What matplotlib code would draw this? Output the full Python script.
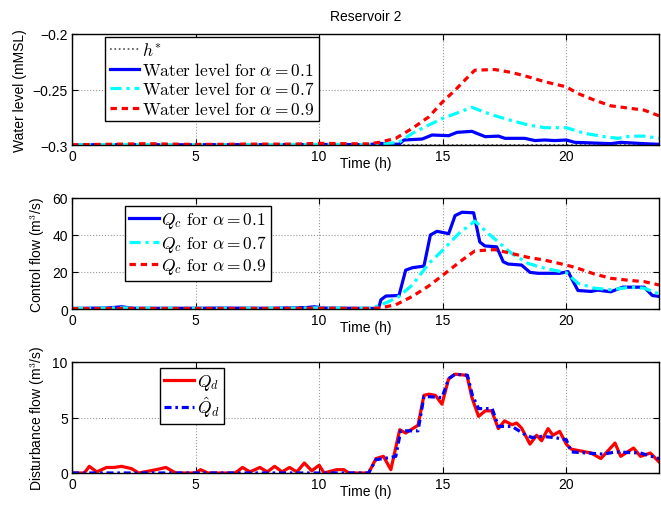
import matplotlib
matplotlib.use('Agg')
import matplotlib.pyplot as plt

plt.rcParams['font.family'] = ['Liberation Sans', 'DejaVu Sans']
plt.rcParams['mathtext.fontset'] = 'cm'

# --- Reservoir 2 water level (mMSL) ---
h_star = -0.3

t_h01 = [0, 2, 4, 6, 8, 10, 12, 12.43, 13.23, 13.43, 14.17, 14.57, 15.24, 15.58, 16.18, 16.38,
         16.72, 17.25, 17.52, 18.32, 18.73, 19.13, 19.53, 20.0, 20.34, 21.8, 22.2, 23.15, 23.75]
h_01 = [-0.2998, -0.2997, -0.2998, -0.2997, -0.2997, -0.2996, -0.2997, -0.2985, -0.2994, -0.2955,
        -0.2946, -0.291, -0.2916, -0.2886, -0.2877, -0.2895, -0.2925, -0.292, -0.294, -0.294,
        -0.296, -0.2955, -0.296, -0.2955, -0.2976, -0.2988, -0.2976, -0.2988, -0.2994]

t_h07 = [0, 2, 4, 6, 8, 10, 12, 12.43, 13.23, 13.77, 14.44, 15.0, 15.64, 16.18, 16.58, 17.12,
         17.79, 18.46, 19.13, 20.0, 20.74, 21.54, 22.08, 22.6, 23.15, 23.75]
h_07 = [-0.2998, -0.2996, -0.2996, -0.2997, -0.2996, -0.2994, -0.2995, -0.2994, -0.2976, -0.2895,
        -0.282, -0.276, -0.2707, -0.266, -0.2695, -0.2737, -0.278, -0.282, -0.2844, -0.2844,
        -0.2895, -0.2925, -0.294, -0.292, -0.292, -0.294]

t_h09 = [0, 1, 2, 3, 4, 5, 6, 7, 8, 9, 10, 11, 12, 12.43, 13.1, 13.77, 14.44, 15.0, 15.5, 16.05,
         16.3, 17.1, 17.8, 18.46, 19.13, 20.0, 20.47, 21.14, 21.8, 22.6, 23.15, 23.75]
h_09 = [-0.2998, -0.2995, -0.2992, -0.2988, -0.2992, -0.2995, -0.2994, -0.2992, -0.2992, -0.2992,
        -0.2985, -0.2988, -0.299, -0.2976, -0.294, -0.285, -0.2746, -0.261, -0.2506, -0.238,
        -0.2326, -0.232, -0.2347, -0.2386, -0.243, -0.2476, -0.2536, -0.2596, -0.2647, -0.267,
        -0.2686, -0.2737]

# --- Control flow Qc (m3/s) ---
t_q01 = [0, 1.5, 2.0, 2.5, 5, 6, 8, 9.5, 9.8, 10.2, 12.4, 12.5, 12.7, 13.23, 13.5, 13.77, 14.24,
         14.5, 14.77, 15.24, 15.5, 15.78, 16.25, 16.5, 16.7, 17.18, 17.45, 17.65, 18.19, 18.53,
         18.86, 19.73, 20.07, 20.47, 21.0, 21.27, 21.8, 22.28, 23.15, 23.48, 23.75]
q_01 = [0.3, 0.6, 1.2, 0.4, 0.4, 0.5, 0.4, 0.8, 1.2, 0.5, 0.3, 5, 7, 7.3, 21, 22.3, 23.2,
        40, 42, 40.7, 50.5, 52.3, 52, 36.2, 34.1, 33.6, 25.5, 24.3, 23.75, 19.8,
        19.3, 19.3, 20.2, 10, 9.5, 10.2, 9.3, 11.8, 11.8, 7.3, 6.8]

t_q07 = [0, 2, 4, 6, 8, 10, 12, 12.43, 12.83, 13.23, 13.77, 14.44, 15.0, 15.64, 16.3, 16.85,
         17.25, 17.79, 18.46, 19.13, 20.0, 20.47, 21.14, 21.8, 22.6, 23.15, 23.75]
q_07 = [0.3, 0.6, 0.4, 0.4, 0.4, 0.6, 0.4, 1.8, 4.1, 6.8, 13, 24.6, 31.8, 40.7, 47.5, 40.7,
        36.2, 30, 24.6, 22, 19.6, 13.9, 11.25, 10.4, 11.8, 11.25, 8.2]

t_q09 = [0, 2, 4, 6, 8, 10, 12, 12.43, 13.1, 13.77, 14.44, 15.1, 15.78, 16.3, 17.1, 17.79,
         18.46, 19.13, 20.0, 20.47, 21.14, 21.8, 22.6, 23.15, 23.75]
q_09 = [0.2, 0.3, 0.3, 0.3, 0.3, 0.4, 0.3, 0.5, 2.3, 6.8, 12.5, 19.3, 26.4, 31.4, 32.1, 30,
        27.9, 26.4, 23.75, 22, 18.9, 16.6, 15.4, 14.8, 13]

# --- Disturbance flow Qd (m3/s) ---
t_qd = [0, 0.5, 0.7, 1.0, 1.4, 1.7, 2.0, 2.4, 2.7, 3.4, 3.8, 4.2, 5.0, 5.2, 5.5, 6.6, 6.9, 7.2,
        7.6, 7.9, 8.2, 8.5, 8.8, 9.1, 9.4, 9.7, 10.0, 10.2, 10.7, 11.0, 11.2, 12.0, 12.3, 12.6,
        12.9, 13.1, 13.26, 13.5, 14.0, 14.24, 14.44, 14.7, 14.97, 15.24, 15.5, 15.98, 16.18,
        16.45, 16.72, 16.98, 17.25, 17.5, 17.8, 17.99, 18.19, 18.53, 18.8, 19.0, 19.26, 19.46,
        19.73, 20.0, 20.2, 21.0, 21.4, 21.97, 22.2, 22.72, 23.0, 23.4, 23.75]
qd = [0, 0, 0.6, 0.1, 0.5, 0.5, 0.6, 0.4, 0, 0.3, 0.5, 0, 0, 0.3, 0, 0, 0.5, 0.1,
      0.5, 0.1, 0.6, 0.1, 0.5, 0.1, 0.9, 0.2, 0.7, 0, 0.3, 0.3, 0, 0, 1.3, 1.5,
      0.3, 2.3, 3.9, 3.6, 4.3, 7.0, 7.1, 7.0, 6.2, 8.5, 8.9, 8.8, 6.8,
      5.1, 5.6, 5.6, 4.0, 4.7, 4.35, 4.5, 4.05, 2.6, 3.4, 2.9, 4.0, 3.4,
      3.75, 2.6, 2.15, 1.8, 1.3, 2.7, 1.5, 2.25, 1.5, 1.8, 1.0]

t_qd_hat = [0, 12.0, 12.3, 12.9, 13.1, 13.3, 14.0, 14.24, 14.97, 15.24, 15.5, 16.0, 16.2, 16.45,
            17.0, 17.25, 17.8, 18.3, 18.6, 19.0, 19.5, 20.0, 20.2, 21.5, 22.0, 23.0, 23.75]
qd_hat = [0, 0, 1.2, 1.4, 1.5, 3.8, 3.8, 6.9, 6.8, 8.5, 8.9, 8.8, 7.0, 5.8,
          5.8, 4.2, 4.2, 3.5, 3.2, 3.3, 3.2, 3.0, 1.9, 1.7, 1.9, 1.8, 1.3]

fig = plt.figure(figsize=(6.61, 5.10), dpi=100)
left, width, height = 72 / 661, 587 / 661, 111 / 510
ax1 = fig.add_axes([left, (510 - 146) / 510, width, height])
ax2 = fig.add_axes([left, (510 - 310) / 510, width, height])
ax3 = fig.add_axes([left, (510 - 474) / 510, width, height])

lw = 2.3
dash_red = (0, (2, 1.5))
dash_cyan = (0, (3.5, 1.5, 1, 1.5))
dash_blue = (0, (2.2, 1.2, 0.8, 1.2))

ax1.plot([0, 23.75], [h_star, h_star], color='0.3', ls=':', lw=1.2, label=r'$h^{*}$')
ax1.plot(t_h01, h_01, color='#0000ff', lw=lw, label=r'$\mathrm{Water\ level\ for\ }\alpha=0.1$')
ax1.plot(t_h07, h_07, color='#00ffff', lw=lw, ls=dash_cyan, label=r'$\mathrm{Water\ level\ for\ }\alpha=0.7$')
ax1.plot(t_h09, h_09, color='#ff0000', lw=lw, ls=dash_red, label=r'$\mathrm{Water\ level\ for\ }\alpha=0.9$')
ax1.set_ylim(-0.3, -0.2)
ax1.set_yticks([-0.3, -0.25, -0.2])
ax1.set_yticklabels(['\u22120.3', '\u22120.25', '\u22120.2'])
ax1.set_ylabel('Water level (mMSL)')
ax1.set_title('Reservoir 2', fontsize=10, pad=10)

ax2.plot(t_q01, q_01, color='#0000ff', lw=lw, label=r'$Q_c\ \mathrm{for}\ \alpha=0.1$')
ax2.plot(t_q07, q_07, color='#00ffff', lw=lw, ls=dash_cyan, label=r'$Q_c\ \mathrm{for}\ \alpha=0.7$')
ax2.plot(t_q09, q_09, color='#ff0000', lw=lw, ls=dash_red, label=r'$Q_c\ \mathrm{for}\ \alpha=0.9$')
ax2.set_ylim(0, 60)
ax2.set_yticks([0, 20, 40, 60])
ax2.set_ylabel('Control flow (m$^3$/s)')

ax3.plot(t_qd, qd, color='#ff0000', lw=lw, label=r'$Q_d$')
ax3.plot(t_qd_hat, qd_hat, color='#0000ff', lw=lw, ls=dash_blue, label=r'$\hat{Q}_d$')
ax3.set_ylim(0, 10)
ax3.set_yticks([0, 5, 10])
ax3.set_ylabel('Disturbance flow (m$^3$/s)')

legend_pos = {ax1: (0.057, 0.975), ax2: (0.09, 0.93), ax3: (0.15, 0.95)}
for ax in (ax1, ax2, ax3):
    ax.set_xlim(0, 23.75)
    ax.set_xticks([0, 5, 10, 15, 20])
    ax.set_xlabel('Time (h)', fontsize=10, labelpad=-5)
    ax.grid(True, ls=':', color='0.6', lw=0.8)
    ax.tick_params(direction='in', top=True, right=True, labelsize=10, pad=3, length=4)
    ax.yaxis.label.set_size(10)
    for s in ax.spines.values():
        s.set_linewidth(1.0)
    leg = ax.legend(loc='upper left', bbox_to_anchor=legend_pos[ax], fancybox=False,
                    edgecolor='k', framealpha=1, fontsize=12.5, handlelength=1.7,
                    handletextpad=0.15, borderpad=0.25, labelspacing=0.15, borderaxespad=0)
    leg.get_frame().set_linewidth(1.0)

fig.savefig('out.png', dpi=100)
